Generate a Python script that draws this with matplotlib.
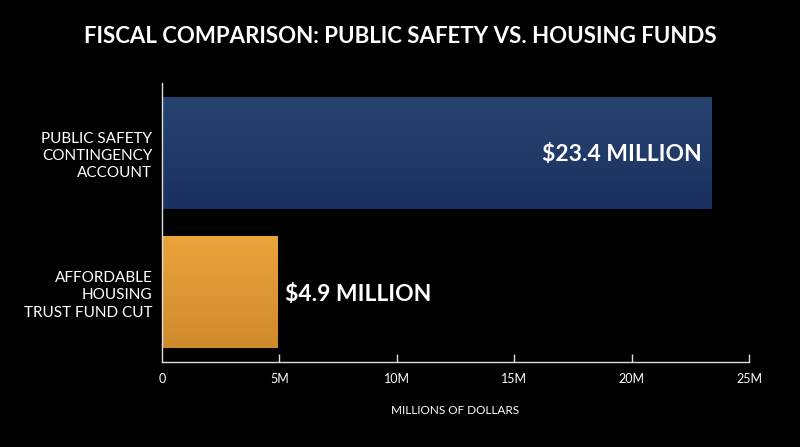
import numpy as np
import matplotlib.pyplot as plt
from matplotlib.colors import LinearSegmentedColormap

categories = ['AFFORDABLE\nHOUSING\nTRUST FUND CUT', 'PUBLIC SAFETY\nCONTINGENCY\nACCOUNT']
values = [4.9, 23.4]  # millions of dollars
value_labels = ['$4.9 MILLION', '$23.4 MILLION']
ticks = [0, 5, 10, 15, 20, 25]
tick_labels = ['0', '5M', '10M', '15M', '20M', '25M']

# top colour, bottom colour for each bar
grads = [('#eba43c', '#cf8a2d'), ('#27436f', '#1b3160')]

plt.rcParams['font.family'] = ['Lato', 'DejaVu Sans']

fig = plt.figure(figsize=(8, 4.47), dpi=100, facecolor='black')
ax = fig.add_axes([0.2025, 0.190, 0.7338, 0.624], facecolor='black')

bar_h = 0.8
bars = ax.barh(range(len(values)), values, height=bar_h, color='none', edgecolor='none')
for i, b in enumerate(bars):
    cmap = LinearSegmentedColormap.from_list('g%d' % i, [grads[i][1], grads[i][0]])
    x0, y0 = b.get_x(), b.get_y()
    ax.imshow(np.linspace(0, 1, 100).reshape(-1, 1), cmap=cmap, aspect='auto',
              origin='lower', extent=[x0, x0 + b.get_width(), y0, y0 + b.get_height()],
              zorder=2)

# value labels: inside the long bar, outside the short one
ax.text(values[1] - 0.42, 1 - 0.015, value_labels[1], color='white', fontsize=16.5,
        fontweight='bold', ha='right', va='center', zorder=3)
ax.text(values[0] + 0.33, 0 - 0.015, value_labels[0], color='white', fontsize=16.5,
        fontweight='bold', ha='left', va='center', zorder=3)

ax.set_xlim(0, 25)
ax.set_ylim(-0.5, 1.5)
ax.set_yticks(range(len(categories)))
ax.set_yticklabels(categories, color='white', fontsize=11, linespacing=1.3)
ax.set_xticks(ticks)
ax.set_xticklabels(tick_labels, color='white', fontsize=9)
ax.tick_params(axis='y', length=0, pad=7)
ax.tick_params(axis='x', direction='in', length=6, width=1, color='#dddddd', pad=8)
ax.xaxis.get_major_ticks()[0].tick1line.set_visible(False)

for side in ['top', 'right']:
    ax.spines[side].set_visible(False)
for side in ['left', 'bottom']:
    ax.spines[side].set_color('#dddddd')
    ax.spines[side].set_linewidth(1)

ax.set_xlabel('MILLIONS OF DOLLARS', color='white', fontsize=8.5, labelpad=14)

fig.text(0.5, 0.918, 'FISCAL COMPARISON: PUBLIC SAFETY VS. HOUSING FUNDS',
         color='white', fontsize=16, fontweight='bold', ha='center', va='center')

fig.savefig('out.png', dpi=100, facecolor='black')
